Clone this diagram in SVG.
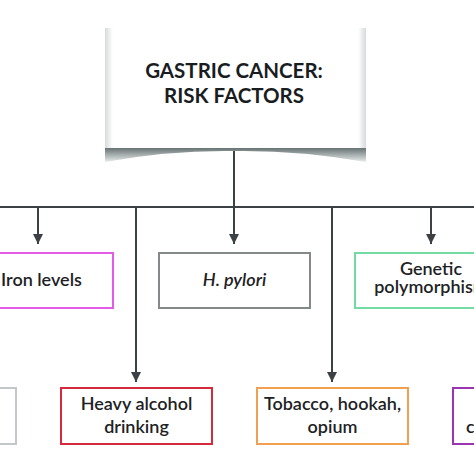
<svg xmlns="http://www.w3.org/2000/svg" width="474" height="474" viewBox="0 0 474 474">
<style>
.t{font-family:Lato,"Open Sans","Liberation Sans",sans-serif;font-size:18px;font-weight:600;fill:#1e2224;text-anchor:middle}
.title{font-family:Lato,"Open Sans","Liberation Sans",sans-serif;font-size:20.5px;font-weight:bold;fill:#1a1d1f;text-anchor:middle}
.box{fill:#ffffff;stroke-width:2}
.ln{stroke:#3b4144;stroke-width:2;fill:none}
</style>
<defs>
<marker id="arr" viewBox="0 0 10 10" refX="10" refY="5" markerWidth="10" markerHeight="10" markerUnits="userSpaceOnUse" orient="auto">
<path d="M0,0 L10,5 L0,10 Z" fill="#3b4144"/>
</marker>
<linearGradient id="sh" x1="0" y1="0" x2="0" y2="1">
<stop offset="0" stop-color="#5e6a6a"/>
<stop offset="1" stop-color="#e8ecec"/>
</linearGradient>
<linearGradient id="side" x1="0" y1="0" x2="1" y2="0">
<stop offset="0" stop-color="#d6dada"/>
<stop offset="0.03" stop-color="#ffffff"/>
<stop offset="0.97" stop-color="#ffffff"/>
<stop offset="1" stop-color="#d6dada"/>
</linearGradient>
</defs>
<rect width="474" height="474" fill="#ffffff"/>

<g id="connectors">
<line class="ln" x1="234" y1="148" x2="234" y2="207"/>
<line class="ln" x1="0" y1="207" x2="474" y2="207"/>
<line class="ln" x1="38" y1="207" x2="38" y2="244" marker-end="url(#arr)"/>
<line class="ln" x1="234" y1="207" x2="234" y2="244" marker-end="url(#arr)"/>
<line class="ln" x1="431" y1="207" x2="431" y2="244" marker-end="url(#arr)"/>
<line class="ln" x1="136" y1="207" x2="136" y2="382" marker-end="url(#arr)"/>
<line class="ln" x1="332" y1="207" x2="332" y2="382" marker-end="url(#arr)"/>
</g>

<g id="title">
<path d="M105,147 L105,162 Q170,150 234,151 Q298,150 366,162 L366,147 Z" fill="url(#sh)"/>
<rect x="105" y="28" width="261" height="120" fill="url(#side)"/>
<text class="title" x="234" y="78">GASTRIC CANCER:</text>
<text class="title" x="234" y="103">RISK FACTORS</text>
</g>

<g id="iron">
<rect class="box" x="-38" y="253" width="151" height="55" stroke="#e35be6"/>
<text class="t" x="1" y="286" style="text-anchor:start">Iron levels</text>
</g>

<g id="hpylori">
<rect class="box" x="159" y="253" width="151" height="55" stroke="#858888"/>
<text class="t" x="234.5" y="286" font-style="italic">H. pylori</text>
</g>

<g id="genetic">
<rect class="box" x="355" y="253" width="151" height="55" stroke="#72daa2"/>
<text class="t" x="431" y="275">Genetic</text>
<text class="t" x="431" y="293">polymorphism</text>
</g>

<g id="left-lower">
<rect class="box" x="-135" y="388" width="151" height="56" stroke="#c3c7c7"/>
</g>

<g id="alcohol">
<rect class="box" x="61" y="388" width="151" height="56" stroke="#d42a3c"/>
<text class="t" x="136.5" y="410">Heavy alcohol</text>
<text class="t" x="136.5" y="433">drinking</text>
</g>

<g id="tobacco">
<rect class="box" x="257" y="388" width="151" height="56" stroke="#f0a04e"/>
<text class="t" x="332.5" y="410">Tobacco, hookah,</text>
<text class="t" x="332.5" y="433">opium</text>
</g>

<g id="right-lower">
<rect class="box" x="453" y="388" width="151" height="56" stroke="#9b34b0"/>
<text class="t" x="466" y="433" style="text-anchor:start">c</text>
</g>
</svg>
